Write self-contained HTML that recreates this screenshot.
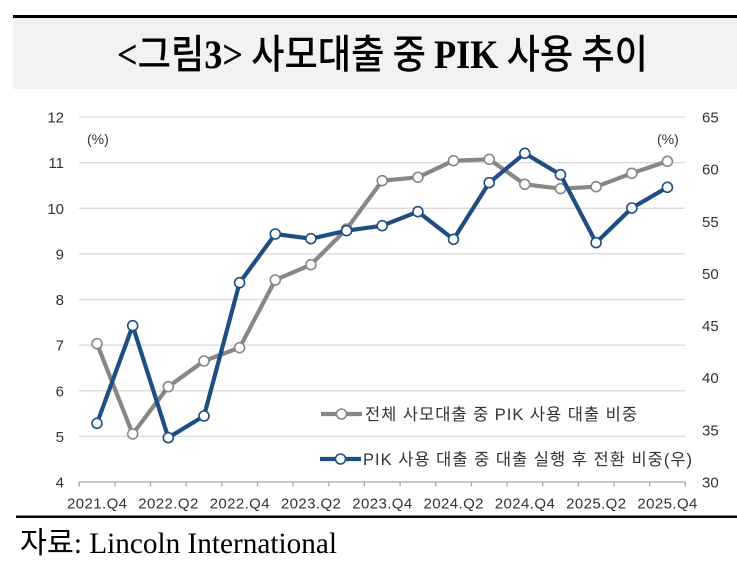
<!DOCTYPE html>
<html><head><meta charset="utf-8"><style>
html,body{margin:0;padding:0;background:#fff;}
body{width:737px;height:570px;overflow:hidden;}
svg{display:block;}
</style></head><body>
<svg width="737" height="570" viewBox="0 0 737 570" xmlns="http://www.w3.org/2000/svg">
<!-- title -->
<rect x="13" y="15" width="724" height="3" fill="#000"/>
<rect x="13" y="18" width="724" height="71" fill="#f2f2f2"/>
<text x="117" y="68" textLength="531" lengthAdjust="spacingAndGlyphs" font-size="40" fill="#000" font-family="'Noto Sans CJK KR', sans-serif" font-weight="500"><tspan font-family="'Liberation Serif', serif" font-weight="bold">&lt;</tspan>그림<tspan font-family="'Liberation Serif', serif" font-weight="bold">3&gt;</tspan> 사모대출 중 <tspan font-family="'Liberation Serif', serif" font-weight="bold">PIK</tspan> 사용 추이</text>

<!-- gridlines -->
<g stroke="#d9d9d9" stroke-width="1.3">
<line x1="79" y1="117" x2="685" y2="117"/>
<line x1="79" y1="162.6" x2="685" y2="162.6"/>
<line x1="79" y1="208.3" x2="685" y2="208.3"/>
<line x1="79" y1="253.9" x2="685" y2="253.9"/>
<line x1="79" y1="299.5" x2="685" y2="299.5"/>
<line x1="79" y1="345.1" x2="685" y2="345.1"/>
<line x1="79" y1="390.8" x2="685" y2="390.8"/>
<line x1="79" y1="436.4" x2="685" y2="436.4"/>
</g>
<!-- x axis -->
<g stroke="#a6a6a6" stroke-width="1.3">
<line x1="79" y1="482" x2="685.5" y2="482"/>
<line x1="79.2" y1="482" x2="79.2" y2="486.5"/>
<line x1="114.9" y1="482" x2="114.9" y2="486.5"/>
<line x1="150.5" y1="482" x2="150.5" y2="486.5"/>
<line x1="186.2" y1="482" x2="186.2" y2="486.5"/>
<line x1="221.8" y1="482" x2="221.8" y2="486.5"/>
<line x1="257.5" y1="482" x2="257.5" y2="486.5"/>
<line x1="293.1" y1="482" x2="293.1" y2="486.5"/>
<line x1="328.8" y1="482" x2="328.8" y2="486.5"/>
<line x1="364.4" y1="482" x2="364.4" y2="486.5"/>
<line x1="400.1" y1="482" x2="400.1" y2="486.5"/>
<line x1="435.7" y1="482" x2="435.7" y2="486.5"/>
<line x1="471.4" y1="482" x2="471.4" y2="486.5"/>
<line x1="507.0" y1="482" x2="507.0" y2="486.5"/>
<line x1="542.7" y1="482" x2="542.7" y2="486.5"/>
<line x1="578.3" y1="482" x2="578.3" y2="486.5"/>
<line x1="614.0" y1="482" x2="614.0" y2="486.5"/>
<line x1="649.6" y1="482" x2="649.6" y2="486.5"/>
<line x1="685.3" y1="482" x2="685.3" y2="486.5"/>
</g>

<!-- left axis labels -->
<g font-family="'Liberation Sans', sans-serif" font-size="15" fill="#333" text-anchor="end">
<text x="64" y="122.5">12</text>
<text x="64" y="168.1">11</text>
<text x="64" y="213.8">10</text>
<text x="64" y="259.4">9</text>
<text x="64" y="305">8</text>
<text x="64" y="350.6">7</text>
<text x="64" y="396.3">6</text>
<text x="64" y="441.9">5</text>
<text x="64" y="487.5">4</text>
</g>
<!-- right axis labels -->
<g font-family="'Liberation Sans', sans-serif" font-size="15" fill="#333">
<text x="702" y="122.5">65</text>
<text x="702" y="174.6">60</text>
<text x="702" y="226.8">55</text>
<text x="702" y="278.9">50</text>
<text x="702" y="331.1">45</text>
<text x="702" y="383.2">40</text>
<text x="702" y="435.4">35</text>
<text x="702" y="487.5">30</text>
</g>
<g font-family="'Liberation Sans', sans-serif" font-size="14" fill="#333">
<text x="87" y="144">(%)</text>
<text x="657" y="144">(%)</text>
</g>
<!-- x labels -->
<g font-family="'Liberation Sans', sans-serif" font-size="15" fill="#333" text-anchor="middle">
<text x="97" y="508.5" textLength="60">2021.Q4</text>
<text x="168.3" y="508.5" textLength="60">2022.Q2</text>
<text x="239.6" y="508.5" textLength="60">2022.Q4</text>
<text x="310.9" y="508.5" textLength="60">2023.Q2</text>
<text x="382.2" y="508.5" textLength="60">2023.Q4</text>
<text x="453.5" y="508.5" textLength="60">2024.Q2</text>
<text x="524.8" y="508.5" textLength="60">2024.Q4</text>
<text x="596.1" y="508.5" textLength="60">2025.Q2</text>
<text x="667.4" y="508.5" textLength="60">2025.Q4</text>
</g>

<!-- gray series -->
<polyline fill="none" stroke="#878787" stroke-width="4.2" stroke-linejoin="round"
points="97,343.7 132.7,434 168.3,386.7 204,361 239.6,347.7 275.3,280 310.9,264.7 346.6,229 382.2,180.7 417.9,177.3 453.5,160.7 489.2,159.3 524.8,184.3 560.5,188.7 596.1,186.7 631.8,173.3 667.4,161.3"/>
<g fill="#fff" stroke="#878787" stroke-width="1.6">
<circle cx="97" cy="343.7" r="5"/><circle cx="132.7" cy="434" r="5"/><circle cx="168.3" cy="386.7" r="5"/><circle cx="204" cy="361" r="5"/><circle cx="239.6" cy="347.7" r="5"/><circle cx="275.3" cy="280" r="5"/><circle cx="310.9" cy="264.7" r="5"/><circle cx="346.6" cy="229" r="5"/><circle cx="382.2" cy="180.7" r="5"/><circle cx="417.9" cy="177.3" r="5"/><circle cx="453.5" cy="160.7" r="5"/><circle cx="489.2" cy="159.3" r="5"/><circle cx="524.8" cy="184.3" r="5"/><circle cx="560.5" cy="188.7" r="5"/><circle cx="596.1" cy="186.7" r="5"/><circle cx="631.8" cy="173.3" r="5"/><circle cx="667.4" cy="161.3" r="5"/>
</g>
<!-- blue series -->
<polyline fill="none" stroke="#1f4e82" stroke-width="4.2" stroke-linejoin="round"
points="97,423.3 132.7,325.7 168.3,437.7 204,416 239.6,282.7 275.3,234 310.9,238.7 346.6,230.7 382.2,225.7 417.9,211.7 453.5,239.3 489.2,182.7 524.8,153.3 560.5,174.7 596.1,242.7 631.8,208 667.4,187.3"/>
<g fill="#fff" stroke="#1f4e82" stroke-width="1.6">
<circle cx="97" cy="423.3" r="5"/><circle cx="132.7" cy="325.7" r="5"/><circle cx="168.3" cy="437.7" r="5"/><circle cx="204" cy="416" r="5"/><circle cx="239.6" cy="282.7" r="5"/><circle cx="275.3" cy="234" r="5"/><circle cx="310.9" cy="238.7" r="5"/><circle cx="346.6" cy="230.7" r="5"/><circle cx="382.2" cy="225.7" r="5"/><circle cx="417.9" cy="211.7" r="5"/><circle cx="453.5" cy="239.3" r="5"/><circle cx="489.2" cy="182.7" r="5"/><circle cx="524.8" cy="153.3" r="5"/><circle cx="560.5" cy="174.7" r="5"/><circle cx="596.1" cy="242.7" r="5"/><circle cx="631.8" cy="208" r="5"/><circle cx="667.4" cy="187.3" r="5"/>
</g>

<!-- legend -->
<line x1="321" y1="414" x2="362" y2="414" stroke="#878787" stroke-width="4.2"/>
<circle cx="341.5" cy="414" r="5" fill="#fff" stroke="#878787" stroke-width="1.6"/>
<text x="365" y="420" textLength="272" font-size="16.5" fill="#333" font-family="'Liberation Sans', 'Noto Sans CJK KR', sans-serif">전체 사모대출 중 PIK 사용 대출 비중</text>
<line x1="320" y1="459" x2="361" y2="459" stroke="#1f4e82" stroke-width="4.2"/>
<circle cx="340.5" cy="459" r="5" fill="#fff" stroke="#1f4e82" stroke-width="1.6"/>
<text x="363" y="465" textLength="329" font-size="16.5" fill="#333" font-family="'Liberation Sans', 'Noto Sans CJK KR', sans-serif">PIK 사용 대출 중 대출 실행 후 전환 비중(우)</text>

<!-- bottom rule & source -->
<rect x="16" y="515.5" width="721" height="2.5" fill="#000"/>
<text x="20" y="553" textLength="317" lengthAdjust="spacingAndGlyphs" font-size="30" fill="#000" font-family="'Liberation Serif', 'Noto Sans CJK KR', serif">자료: Lincoln International</text>
</svg>
</body></html>
